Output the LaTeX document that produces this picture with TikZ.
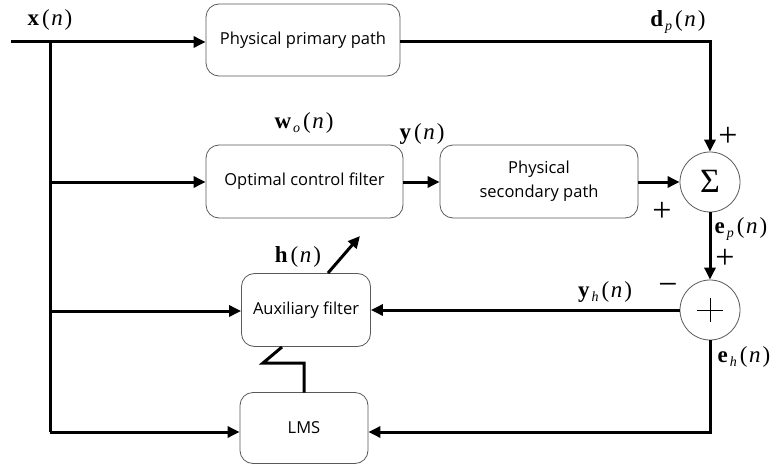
\documentclass[tikz,border=0pt]{standalone}
\usepackage{fontspec}
\setmainfont{Open Sans}
\newfontfamily\tnr{Liberation Serif}
\usetikzlibrary{arrows.meta}
\newcommand{\vb}[1]{\textbf{#1}}
\newcommand{\vn}{\kern3pt(\kern1.5pt\textit{n}\kern2pt)}
\newcommand{\sub}[1]{\raisebox{-0.4ex}{\kern2pt\fontsize{14}{14}\selectfont\textit{#1}}}
\begin{document}
\begin{tikzpicture}[x=1pt,y=-1pt,
  blk/.style={draw=black!65, line width=0.8pt, rounded corners=13pt, align=center,
    font=\fontsize{16.5}{24}\selectfont, inner sep=0pt},
  sig/.style={line width=3pt, -{Triangle[length=12pt,width=11pt]}},
  wire/.style={line width=3pt},
  lab/.style={font=\tnr\fontsize{23}{25}\selectfont, inner sep=0pt},
  sgn/.style={font=\tnr\fontsize{34}{34}\selectfont, inner sep=0pt},
  sumc/.style={circle, draw=black!65, line width=0.8pt, minimum size=60pt, inner sep=0pt}]
\useasboundingbox (0,0) rectangle (771,468);

% blocks
\node[blk, minimum width=194pt, minimum height=72pt] (pp) at (303,40) {Physical primary path};
\node[blk, minimum width=197pt, minimum height=73pt] (ocf) at (304.5,181.5) {Optimal control filter};
\node[blk, minimum width=198pt, minimum height=73pt] (sp) at (539,181.5) {Physical\\secondary path};
\node[blk, minimum width=129pt, minimum height=73pt] (aux) at (306,310) {Auxiliary filter};
\node[blk, minimum width=128pt, minimum height=71pt] (lms) at (304,428) {LMS};
\node[sumc] (sum) at (710,182) {};
\node[font=\tnr\fontsize{34}{34}\selectfont, inner sep=0pt] (sig) at (710,181) {Σ};
\node[sumc] (add) at (710,310) {};
\draw[line width=0.9pt] (697,310) -- (723,310) (710,298) -- (710,322);

% coordinates
\coordinate (in) at (11,42);
\coordinate (t0) at (50,42);
\coordinate (t1) at (50,182);
\coordinate (t2) at (50,311);
\coordinate (t3) at (50,432);
\coordinate (dpc) at (710,42);
\coordinate (ehc) at (710,432);

% connectors
\draw[sig] (in) -- (pp.west |- in);
\draw[wire] (t0) -- (t3);
\draw[sig] (t1) -- (ocf.west |- t1);
\draw[sig] (t2) -- (aux.west |- t2);
\draw[sig] (t3) -- (lms.west |- t3);
\draw[sig] (pp.east |- dpc) -- (dpc) -- (sum.north);
\draw[sig] (ocf.east |- t1) -- (sp.west |- t1);
\draw[sig] (sp.east |- t1) -- (sum.west);
\draw[sig] (sum.south) -- (add.north);
\draw[sig] (add.west) -- (aux.east |- add.west);
\draw[sig] (add.south) -- (ehc) -- (lms.east |- ehc);
\coordinate (z0) at (304,392.5);
\coordinate (z1) at (304,363);
\coordinate (z2) at (263,363);
\coordinate (z3) at (282,347);
\draw[line width=3pt] (z0) -- (z1) -- (z2) -- (z3);
\coordinate (h0) at (328,273);
\coordinate (h1) at (360,236);
\draw[sig] (h0) -- (h1);

% labels
\node[lab] (lx) at (50,20) {\vb{x}\vn};
\node[lab] (ldp) at (678,22) {\vb{d}\sub{p}\vn};
\node[lab] (lwo) at (304,123) {\vb{w}\sub{o}\vn};
\node[lab] (ly) at (422,134) {\vb{y}\vn};
\node[lab] (lep) at (741,229) {\vb{e}\sub{p}\vn};
\node[lab] (lyh) at (605,292) {\vb{y}\sub{h}\vn};
\node[lab] (leh) at (744,357) {\vb{e}\sub{h}\vn};
\node[lab] (lh) at (298,257) {\vb{h}\vn};
\node[sgn] (s1) at (728,137) {+};
\node[sgn] (s2) at (662,212) {+};
\node[sgn] (s3) at (725,259) {+};
\node[sgn] (s4) at (668,289) {\textminus};
\end{tikzpicture}
\end{document}
